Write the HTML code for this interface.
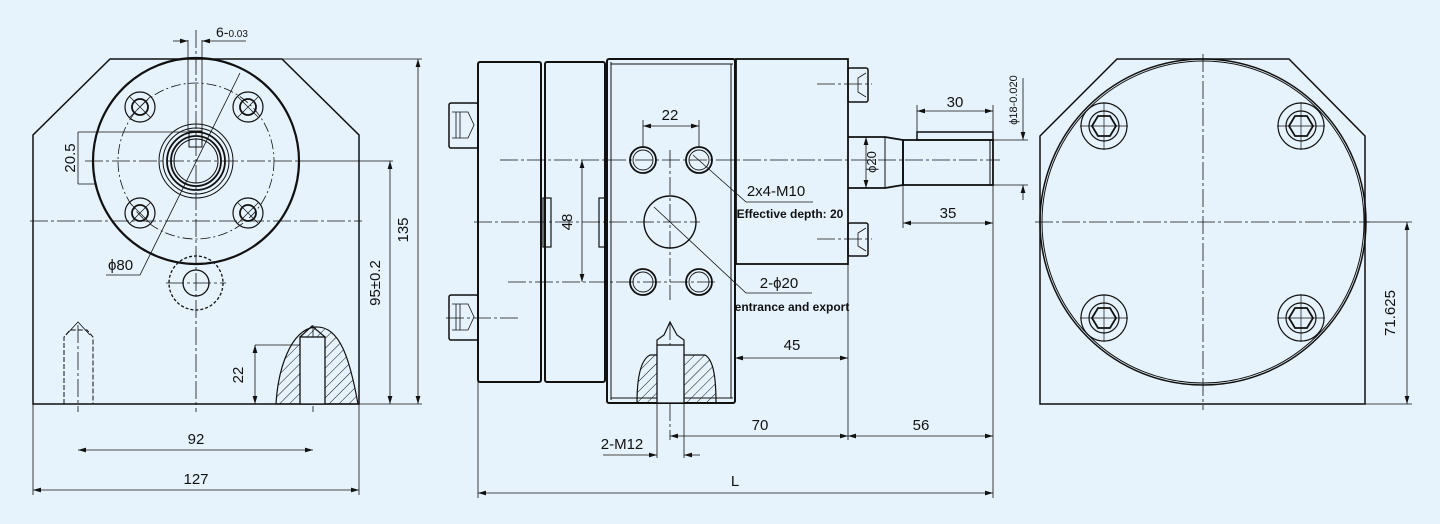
<!DOCTYPE html>
<html><head><meta charset="utf-8"><style>
html,body{margin:0;padding:0;background:#e6f3fc;}
svg{display:block}
text{font-family:"Liberation Sans",sans-serif;fill:#111;}
.n{font-family:"Liberation Sans Narrow","Liberation Sans",sans-serif;font-size:15px;}
</style></head><body>
<svg width="1440" height="524" viewBox="0 0 1440 524" xmlns="http://www.w3.org/2000/svg">
<defs>
<marker id="a" viewBox="0 0 10 6" refX="10" refY="3" markerWidth="10" markerHeight="6" orient="auto-start-reverse"><path d="M0,0L10,3L0,6Z" fill="#111"/></marker>
<pattern id="h" width="7" height="7" patternUnits="userSpaceOnUse" patternTransform="rotate(45)"><line x1="0" y1="0" x2="0" y2="7" stroke="#111" stroke-width="1"/></pattern>
</defs>
<rect width="1440" height="524" fill="#e6f3fc"/>
<g fill="none" stroke="#111" stroke-width="1">
<!-- ===== LEFT VIEW ===== -->
<path d="M33,404 L33,135 L110,59 L282,59 L359,135 L359,404 Z" stroke-width="1.5"/>
<g stroke-dasharray="18 3 3 3" stroke-width="0.8">
<line x1="30" y1="221" x2="362" y2="221"/>
<line x1="85" y1="161" x2="300" y2="161"/>
<line x1="196" y1="30" x2="196" y2="412"/>
<line x1="166" y1="283" x2="226" y2="283"/>
<line x1="78" y1="325" x2="78" y2="412"/>
<line x1="313" y1="325" x2="313" y2="412"/>
</g>
<circle cx="196" cy="161" r="103" stroke-width="2.2"/>
<circle cx="196" cy="161" r="78" stroke-dasharray="10 3 2 3" stroke-width="0.8"/>
<circle cx="196" cy="161" r="37"/>
<circle cx="196" cy="161" r="33"/>
<circle cx="196" cy="161" r="29" stroke-width="1.8"/>
<circle cx="196" cy="161" r="25" stroke-width="1.8"/>
<circle cx="196" cy="161" r="22"/>
<rect x="189" y="131" width="13" height="16"/>
<line x1="188" y1="40" x2="188" y2="131" stroke-width="0.8"/>
<line x1="202" y1="40" x2="202" y2="131" stroke-width="0.8"/>
<line x1="173" y1="41" x2="188" y2="41" marker-end="url(#a)" stroke-width="0.8"/>
<line x1="246" y1="41" x2="202" y2="41" marker-end="url(#a)" stroke-width="0.8"/>
<g stroke-width="1.2">
<circle cx="140" cy="107" r="15"/><circle cx="140" cy="107" r="8" stroke-width="1.8"/>
<circle cx="248" cy="107" r="15"/><circle cx="248" cy="107" r="8" stroke-width="1.8"/>
<circle cx="140" cy="213" r="15"/><circle cx="140" cy="213" r="8" stroke-width="1.8"/>
<circle cx="248" cy="213" r="15"/><circle cx="248" cy="213" r="8" stroke-width="1.8"/>
</g>
<g stroke-width="0.7">
<line x1="130" y1="97" x2="150" y2="117"/><line x1="130" y1="117" x2="150" y2="97"/>
<line x1="238" y1="97" x2="258" y2="117"/><line x1="238" y1="117" x2="258" y2="97"/>
<line x1="130" y1="203" x2="150" y2="223"/><line x1="130" y1="223" x2="150" y2="203"/>
<line x1="238" y1="203" x2="258" y2="223"/><line x1="238" y1="223" x2="258" y2="203"/>
</g>
<circle cx="196" cy="283" r="13" stroke-width="1.3"/>
<circle cx="196" cy="283" r="27" stroke-dasharray="3 2" stroke-width="1.3"/>
<polyline points="240,73 140,275 106,275" stroke-width="0.8"/>
<!-- 20.5 -->
<line x1="78" y1="132" x2="190" y2="132" stroke-width="0.8"/>
<line x1="78" y1="184" x2="96" y2="184" stroke-width="0.8"/>
<line x1="78" y1="132" x2="78" y2="184" stroke-width="0.8"/>
<!-- studs -->
<path d="M64,404 V337 L70,330 L87,330 L93,337 V404" stroke-dasharray="5 2"/>
<path d="M66,335 L78,322 L90,335" stroke-width="0.8"/>
<path d="M276,404 C278,370 290,330 315,327 C340,325 350,360 358,404 Z" fill="url(#h)" stroke-width="1.2"/>
<rect x="300" y="337" width="25" height="67" fill="#e6f3fc" stroke-width="1.3"/>
<path d="M300,337 L312,326 L325,337" stroke-width="1.2"/>
<line x1="255" y1="345" x2="300" y2="345" stroke-width="0.8"/>
<line x1="255" y1="345" x2="255" y2="404" stroke-width="0.8" marker-start="url(#a)" marker-end="url(#a)"/>
<!-- dims -->
<line x1="282" y1="59" x2="422" y2="59" stroke-width="0.8"/>
<line x1="359" y1="404" x2="422" y2="404" stroke-width="0.8"/>
<line x1="300" y1="161" x2="393" y2="161" stroke-width="0.8"/>
<line x1="418" y1="59" x2="418" y2="404" stroke-width="0.8" marker-start="url(#a)" marker-end="url(#a)"/>
<line x1="390" y1="161" x2="390" y2="404" stroke-width="0.8" marker-start="url(#a)" marker-end="url(#a)"/>
<line x1="78" y1="450" x2="313" y2="450" stroke-width="0.8" marker-start="url(#a)" marker-end="url(#a)"/>
<line x1="33" y1="404" x2="33" y2="495" stroke-width="0.8"/>
<line x1="359" y1="404" x2="359" y2="495" stroke-width="0.8"/>
<line x1="33" y1="490" x2="359" y2="490" stroke-width="0.8" marker-start="url(#a)" marker-end="url(#a)"/>

<!-- ===== MIDDLE VIEW ===== -->
<rect x="478" y="62" width="63" height="320" rx="2" stroke-width="2"/>
<rect x="545" y="62" width="60" height="320" rx="2" stroke-width="2"/>
<rect x="607" y="59" width="128" height="344" rx="2" stroke-width="2"/>
<line x1="611" y1="62" x2="611" y2="400"/>
<line x1="611" y1="64" x2="733" y2="64"/>
<line x1="611" y1="398" x2="733" y2="398"/>
<line x1="731" y1="64" x2="731" y2="398"/>
<rect x="736" y="59" width="112" height="205" stroke-width="1.8"/>
<rect x="449" y="103" width="29" height="45" rx="2" stroke-width="1.5"/>
<rect x="449" y="295" width="29" height="45" rx="2" stroke-width="1.5"/>
<path d="M452,112 H468 L474,125 L468,138 H452 M456,112 V138 M460,112 V138" stroke-width="0.8"/>
<path d="M452,304 H468 L474,317 L468,330 H452 M456,304 V330 M460,304 V330" stroke-width="0.8"/>
<rect x="848" y="68" width="20" height="34" rx="2" stroke-width="1.5"/>
<rect x="848" y="223" width="20" height="33" rx="2" stroke-width="1.5"/>
<path d="M866,73 L858,78 L858,92 L866,97" stroke-width="0.8"/>
<path d="M866,228 L858,233 L858,246 L866,251" stroke-width="0.8"/>
<rect x="543" y="198" width="8" height="49" stroke-width="1.2"/>
<rect x="599" y="198" width="7" height="49" stroke-width="1.2"/>
<g stroke-dasharray="18 3 3 3" stroke-width="0.8">
<line x1="500" y1="160" x2="1000" y2="160"/>
<line x1="474" y1="222" x2="700" y2="222"/>
<line x1="508" y1="282" x2="715" y2="282"/>
<line x1="446" y1="318" x2="520" y2="318"/>
<line x1="817" y1="84" x2="872" y2="84"/>
<line x1="817" y1="239" x2="872" y2="239"/>
<line x1="670" y1="150" x2="670" y2="300"/>
<line x1="670" y1="322" x2="670" y2="440"/>
</g>
<g stroke-width="1.8">
<circle cx="643" cy="160" r="13"/><circle cx="699" cy="160" r="13"/>
<circle cx="643" cy="282" r="13"/><circle cx="699" cy="282" r="13"/>
</g>
<g stroke-width="0.9">
<circle cx="643" cy="160" r="10"/><circle cx="699" cy="160" r="10"/>
<circle cx="643" cy="282" r="10"/><circle cx="699" cy="282" r="10"/>
</g>
<circle cx="670" cy="222" r="26" stroke-width="1.4"/>
<polyline points="693,155 746,202 813,202" stroke-width="0.8"/>
<polyline points="654,207 746,293 812,293" stroke-width="0.8"/>
<!-- shaft -->
<path d="M848,137 H885 L903,140 V185 L885,188 H848" stroke-width="1.8"/>
<line x1="885" y1="137" x2="885" y2="188"/>
<rect x="903" y="140" width="90" height="45" stroke-width="1.8"/>
<rect x="917" y="132" width="76" height="8" stroke-width="1.5"/>
<line x1="990" y1="140" x2="990" y2="185"/>
<!-- bottom hatch -->
<path d="M637,403 C637,380 640,360 650,355 H705 C714,360 716,380 716,403 Z" fill="url(#h)" stroke-width="1.2"/>
<rect x="657" y="345" width="27" height="58" fill="#e6f3fc" stroke-width="1.3"/>
<path d="M657,345 V340 L664,335 L670,322 L677,335 L684,340 V345" stroke-width="1.2"/>
<!-- dims -->
<line x1="643" y1="120" x2="643" y2="147" stroke-width="0.8"/>
<line x1="699" y1="120" x2="699" y2="147" stroke-width="0.8"/>
<line x1="643" y1="126" x2="699" y2="126" stroke-width="0.8" marker-start="url(#a)" marker-end="url(#a)"/>
<line x1="582" y1="160" x2="582" y2="282" stroke-width="0.8" marker-start="url(#a)" marker-end="url(#a)"/>
<line x1="735" y1="358" x2="848" y2="358" stroke-width="0.8" marker-start="url(#a)" marker-end="url(#a)"/>
<line x1="848" y1="264" x2="848" y2="440" stroke-width="0.8"/>
<line x1="993" y1="185" x2="993" y2="498" stroke-width="0.8"/>
<line x1="478" y1="382" x2="478" y2="498" stroke-width="0.8"/>
<line x1="657" y1="403" x2="657" y2="458" stroke-width="0.8"/>
<line x1="684" y1="403" x2="684" y2="458" stroke-width="0.8"/>
<line x1="670" y1="436" x2="848" y2="436" stroke-width="0.8" marker-start="url(#a)" marker-end="url(#a)"/>
<line x1="848" y1="436" x2="993" y2="436" stroke-width="0.8" marker-start="url(#a)" marker-end="url(#a)"/>
<line x1="603" y1="455" x2="657" y2="455" stroke-width="0.8" marker-end="url(#a)"/>
<line x1="700" y1="455" x2="684" y2="455" stroke-width="0.8" marker-end="url(#a)"/>
<line x1="478" y1="493" x2="993" y2="493" stroke-width="0.8" marker-start="url(#a)" marker-end="url(#a)"/>
<line x1="917" y1="105" x2="917" y2="132" stroke-width="0.8"/>
<line x1="917" y1="111" x2="993" y2="111" stroke-width="0.8" marker-start="url(#a)" marker-end="url(#a)"/>
<line x1="993" y1="105" x2="993" y2="140" stroke-width="0.8"/>
<line x1="903" y1="185" x2="903" y2="228" stroke-width="0.8"/>
<line x1="903" y1="223" x2="993" y2="223" stroke-width="0.8" marker-start="url(#a)" marker-end="url(#a)"/>
<line x1="993" y1="140" x2="1028" y2="140" stroke-width="0.8"/>
<line x1="993" y1="185" x2="1028" y2="185" stroke-width="0.8"/>
<line x1="1023" y1="78" x2="1023" y2="140" stroke-width="0.8" marker-end="url(#a)"/>
<line x1="1023" y1="200" x2="1023" y2="185" stroke-width="0.8" marker-end="url(#a)"/>
<line x1="866" y1="137" x2="866" y2="188" stroke-width="0.8" marker-start="url(#a)" marker-end="url(#a)"/>

<!-- ===== RIGHT VIEW ===== -->
<path d="M1040,404 V136 L1117,59 H1289 L1365,136 V404 Z" stroke-width="1.5"/>
<circle cx="1203" cy="222" r="163" stroke-width="1.5"/>
<circle cx="1203" cy="222" r="161" stroke-width="1"/>
<g stroke-dasharray="18 3 3 3" stroke-width="0.8">
<line x1="1035" y1="222" x2="1370" y2="222"/>
<line x1="1203" y1="54" x2="1203" y2="410"/>
</g>
<g stroke-width="1.2">
<circle cx="1104" cy="126" r="23"/><circle cx="1301" cy="126" r="23"/>
<circle cx="1104" cy="318" r="23"/><circle cx="1301" cy="318" r="23"/>
<circle cx="1104" cy="126" r="15"/><circle cx="1301" cy="126" r="15"/>
<circle cx="1104" cy="318" r="15"/><circle cx="1301" cy="318" r="15"/>
</g>
<g stroke-width="1.8">
<polygon points="1092,126 1098,116 1110,116 1116,126 1110,136 1098,136"/>
<polygon points="1289,126 1295,116 1307,116 1313,126 1307,136 1295,136"/>
<polygon points="1092,318 1098,308 1110,308 1116,318 1110,328 1098,328"/>
<polygon points="1289,318 1295,308 1307,308 1313,318 1307,328 1295,328"/>
</g>
<g stroke-width="0.7">
<line x1="1080" y1="126" x2="1128" y2="126"/><line x1="1104" y1="102" x2="1104" y2="150"/>
<line x1="1277" y1="126" x2="1325" y2="126"/><line x1="1301" y1="102" x2="1301" y2="150"/>
<line x1="1080" y1="318" x2="1128" y2="318"/><line x1="1104" y1="294" x2="1104" y2="342"/>
<line x1="1277" y1="318" x2="1325" y2="318"/><line x1="1301" y1="294" x2="1301" y2="342"/>
</g>
<line x1="1365" y1="222" x2="1412" y2="222" stroke-width="0.8"/>
<line x1="1365" y1="404" x2="1412" y2="404" stroke-width="0.8"/>
<line x1="1407" y1="222" x2="1407" y2="404" stroke-width="0.8" marker-start="url(#a)" marker-end="url(#a)"/>
</g>

<!-- TEXT -->
<g class="n">
<text x="216" y="37" font-size="14">6-<tspan font-size="10">0.03</tspan></text>
<text x="75" y="158" text-anchor="middle" transform="rotate(-90 75 158)">20.5</text>
<text x="108" y="270">ϕ80</text>
<text x="243" y="375" text-anchor="middle" transform="rotate(-90 243 375)">22</text>
<text x="380" y="283" text-anchor="middle" transform="rotate(-90 380 283)">95±0.2</text>
<text x="408" y="230" text-anchor="middle" transform="rotate(-90 408 230)">135</text>
<text x="196" y="444" text-anchor="middle">92</text>
<text x="196" y="484" text-anchor="middle">127</text>

<text x="670" y="120" text-anchor="middle">22</text>
<text x="572" y="222" text-anchor="middle" transform="rotate(-90 572 222)">48</text>
<text x="776" y="196" text-anchor="middle">2x4-M10</text>
<text x="779" y="288" text-anchor="middle">2-ϕ20</text>
<text x="792" y="350" text-anchor="middle">45</text>
<text x="760" y="430" text-anchor="middle">70</text>
<text x="921" y="430" text-anchor="middle">56</text>
<text x="622" y="449" text-anchor="middle">2-M12</text>
<text x="735" y="486" text-anchor="middle">L</text>
<text x="955" y="107" text-anchor="middle">30</text>
<text x="948" y="218" text-anchor="middle">35</text>
<text x="876" y="162" text-anchor="middle" font-size="13" transform="rotate(-90 876 162)">ϕ20</text>
<text x="1017" y="100" text-anchor="middle" font-size="11" transform="rotate(-90 1017 100)">ϕ18-0.020</text>
<text x="1395" y="313" text-anchor="middle" transform="rotate(-90 1395 313)">71.625</text>
</g>
<text x="790" y="218" text-anchor="middle" font-size="12" font-weight="bold">Effective depth: 20</text>
<text x="792" y="311" text-anchor="middle" font-size="12" font-weight="bold">entrance and export</text>
</svg>
</body></html>
